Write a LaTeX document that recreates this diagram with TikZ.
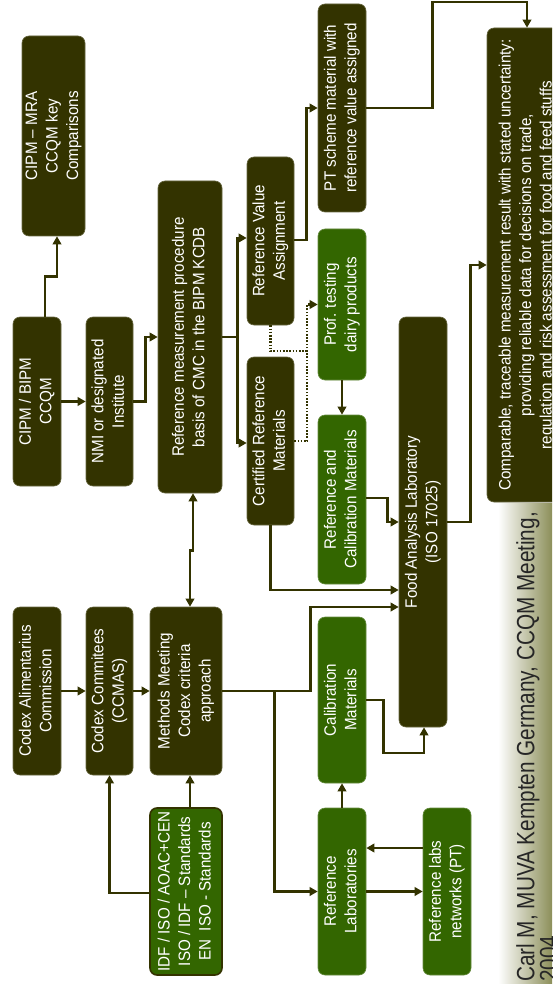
\documentclass[tikz,border=0pt]{standalone}
\usepackage{fontspec}
\setmainfont{Liberation Sans}[FakeStretch=0.92]
\newfontfamily\footfont{Liberation Sans}[FakeStretch=0.83]
\usetikzlibrary{arrows.meta}
\definecolor{dk}{HTML}{333300}
\definecolor{gr}{HTML}{336600}
\definecolor{ol}{HTML}{8C8F5A}
\newcommand\rt[1]{\rotatebox{90}{\begin{tabular}{@{}c@{}}#1\end{tabular}}}
\begin{document}
\begin{tikzpicture}[x=1pt,y=-1pt,
  bx/.style={rounded corners=7pt, inner sep=0pt, text=white,
    font=\fontsize{16.5}{20.5}\selectfont},
  dbox/.style={bx, fill=dk, draw=dk!75!white, line width=0.6pt},
  gbox/.style={bx, fill=gr, draw=gr!75!white, line width=0.6pt},
  ibox/.style={bx, fill=gr, draw=dk, line width=1.6pt},
  ar/.style={draw=dk, line width=2.8pt, -{Triangle[length=8pt,width=8.5pt]}},
  ar2/.style={draw=dk, line width=2.8pt, {Triangle[length=8pt,width=8.5pt]}-{Triangle[length=8pt,width=8.5pt]}},
  dt/.style={draw=dk, line width=2.2pt, dash pattern=on 1.6pt off 1.6pt},
  dta/.style={dt, -{Triangle[length=8pt,width=8.5pt]}}
]
\useasboundingbox (0,0) rectangle (552,984);
\clip (0,0) rectangle (552,984);

% background shading at right bottom
\shade[left color=white, right color=ol] (498,503) rectangle (552,984);

% boxes
\node[dbox, minimum width=63pt, minimum height=200pt] (mra) at (53.5,136) {\rt{CIPM -- MRA\\CCQM key\\Comparisons}};
\node[dbox, minimum width=48pt, minimum height=169pt] (bipm) at (37,401.5) {\rt{CIPM / BIPM\\CCQM}};
\node[dbox, minimum width=47pt, minimum height=169pt] (nmi) at (109.5,401.5) {\rt{NMI or designated\\Institute}};
\node[dbox, minimum width=64pt, minimum height=312pt] (rmp) at (190,337) {\rt{Reference measurement procedure\\basis of CMC in the BIPM KCDB}};
\node[dbox, minimum width=47pt, minimum height=168pt] (rva) at (270.5,241) {\rt{Reference Value\\Assignment}};
\node[dbox, minimum width=47pt, minimum height=168pt] (crm) at (270.5,441) {\rt{Certified Reference\\Materials}};
\node[dbox, minimum width=48pt, minimum height=208pt] (pts) at (342,108) {\rt{PT scheme material with\\reference value assigned}};
\node[gbox, minimum width=48pt, minimum height=151pt] (prof) at (342,304.5) {\rt{Prof. testing\\dairy products}};
\node[gbox, minimum width=48pt, minimum height=169pt] (rcm) at (342,499.5) {\rt{Reference and\\Calibration Materials}};
\node[dbox, minimum width=48pt, minimum height=410pt] (food) at (423,522) {\rt{Food Analysis Laboratory\\(ISO 17025)}};
\node[dbox, minimum width=80pt, minimum height=474pt] (comp) at (527,265) {\rt{Comparable, traceable measurement result with stated uncertainty:\\providing reliable data for decisions on trade,\\regulation and risk assessment for food and feed stuffs}};
\node[dbox, minimum width=48pt, minimum height=168pt] (cac) at (37,691) {\rt{Codex Alimentarius\\Commission}};
\node[dbox, minimum width=47pt, minimum height=168pt] (ccm) at (109.5,691) {\rt{Codex Commitees\\(CCMAS)}};
\node[dbox, minimum width=72pt, minimum height=168pt] (mm) at (186,691) {\rt{Methods Meeting\\Codex criteria\\approach}};
\node[ibox, minimum width=72pt, minimum height=167pt] (idf) at (186,891.5) {\rt{IDF / ISO / AOAC+CEN\\ISO / IDF -- Standards\\EN\ \ ISO - Standards}};
\node[gbox, minimum width=48pt, minimum height=166pt] (cal) at (342,700) {\rt{Calibration\\Materials}};
\node[gbox, minimum width=48pt, minimum height=167pt] (rlab) at (342,891.5) {\rt{Reference\\Laboratories}};
\node[gbox, minimum width=48pt, minimum height=167pt] (rnet) at (447,891.5) {\rt{Reference labs\\networks (PT)}};

% footer
\node[rotate=90, anchor=north west, inner sep=0pt, align=left, text=black!85,
  font=\footfont\fontsize{25}{23}\selectfont] (foot) at (516,982)
  {Carl M, MUVA Kempten Germany, CCQM Meeting,\\2004};

% connectors
\draw[ar] ([xshift=8pt]bipm.north) -- ++(0,-40) -| ([xshift=3.5pt]mra.south);
\draw[ar] (bipm.east) -- (nmi.west);
\draw[ar] (nmi.east) -- ++(12,0) |- (rmp.west);
\draw[ar] (rmp.east) -- ++(15,0) |- ([yshift=3pt]rva.west);
\draw[ar] ([xshift=15pt]rmp.east) |- ([yshift=-2pt]crm.west);
\draw[ar] ([yshift=1pt]rva.east) -- ++(12,0) |- (pts.west);
\draw[ar] (pts.east) -- ++(66,0) -- ++(0,-106) -| (comp.north);
\draw[dt] (rva.south) -- ++(0,26) -- ++(36.5,0);
\draw[dta] (crm.east) -- ++(13,0) |- (prof.west);
\draw[ar] (prof.south) -- (rcm.north);
\draw[ar] ([yshift=1.5pt]rcm.east) -- ++(21,0) |- (food.west);
\draw[ar] (crm.south) |- ([yshift=-68pt]food.west);
\draw[ar] (mm.east) -- ++(88,0) |- ([yshift=-85pt]food.west);
\draw[ar] ([xshift=52pt]mm.east) |- (rlab.west);
\draw[ar2] ([xshift=3pt]rmp.south) -- ++(0,57) -- ++(-3,0) -- ([xshift=4pt]mm.north);
\draw[ar] (cac.east) -- (ccm.west);
\draw[ar] (ccm.east) -- (mm.west);
\draw[ar] ([yshift=-1.5pt]idf.west) -| (ccm.south);
\draw[ar] ([xshift=4pt]idf.north) -- ([xshift=4pt]mm.south);
\draw[ar] (rlab.north) -- (cal.south);
\draw[ar] (cal.east) -- ++(17,0) -- ++(0,53) -| ([xshift=1pt]food.south);
\draw[ar] (rlab.east) -- (rnet.west);
\draw[ar] ([yshift=43.5pt]rnet.west) -- ([yshift=43.5pt]rlab.east);
\draw[ar] (food.east) -- ++(23,0) |- (comp.west);
\end{tikzpicture}
\end{document}
